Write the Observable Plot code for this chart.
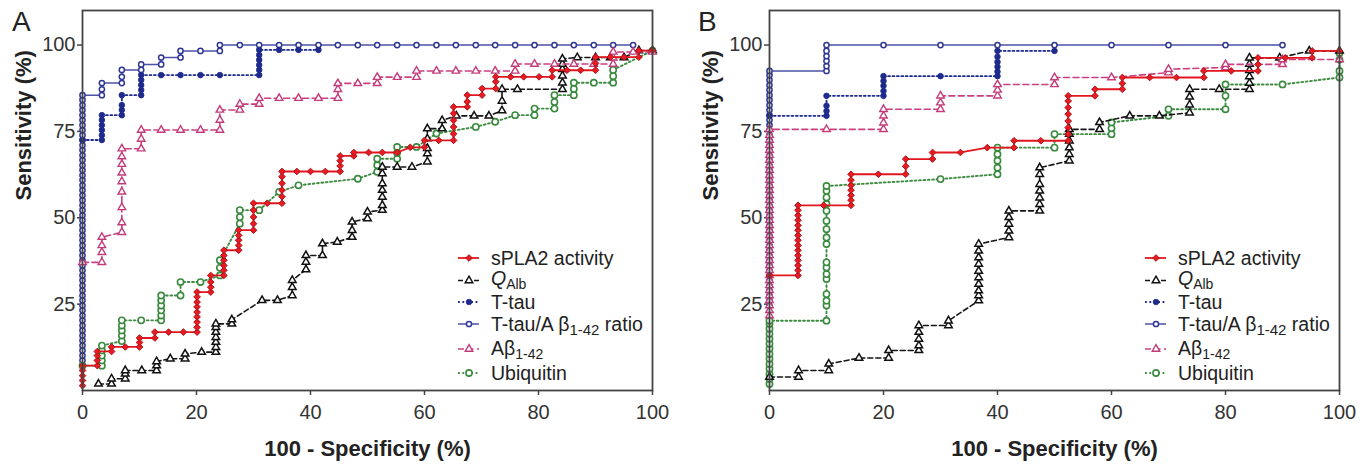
<!DOCTYPE html>
<html><head><meta charset="utf-8">
<script src="https://cdn.jsdelivr.net/npm/d3@7"></script>
<script src="https://cdn.jsdelivr.net/npm/@observablehq/plot@0.6"></script>
<style>
body{margin:0;background:#fff;font-family:"Liberation Sans",Arial,sans-serif;}
#wrap{position:relative;width:1372px;height:464px;display:flex;}
.panel{position:relative;width:686px;height:464px;}
.panel svg.leg{position:absolute;left:0;top:0;pointer-events:none;overflow:visible;}
.letter{position:absolute;top:6px;font-size:28px;color:#222;}
</style></head><body><div id="wrap"></div>
<script>
// ---------- DATA ----------
const panels = ["A", "B"];
const xTicks = [0, 20, 40, 60, 80, 100];
const yTicks = [25, 50, 75, 100];

// Panel A
const A_spla2 = [[0,1.4],[0,2.9],[0,4.3],[0,5.8],[0,7.2],[2.6,7.2],[2.6,8.7],[2.6,10.1],[2.6,11.3],[5.1,11.3],[5.1,12.6],[7.5,12.6],[10.0,12.6],[10.0,13.9],[10.0,15.2],[12.7,15.2],[12.7,16.9],[15.1,16.9],[17.7,16.9],[20.1,16.9],[20.1,18.3],[20.1,19.8],[20.1,21.3],[20.1,22.7],[20.1,24.2],[20.1,25.6],[20.1,27.1],[20.1,28.5],[22.5,28.5],[22.5,29.9],[22.5,31.4],[22.5,33.3],[24.8,33.3],[24.8,34.8],[24.8,36.2],[24.8,37.7],[24.8,39.1],[24.8,40.6],[27.4,40.6],[27.4,42.0],[27.4,43.5],[27.4,44.9],[27.4,46.4],[30.0,46.4],[30.0,48.3],[30.0,50.2],[30.0,52.2],[30.0,54.2],[32.4,54.2],[35.0,54.2],[35.0,56.1],[35.0,58.0],[35.0,60.0],[35.0,61.9],[35.0,63.4],[37.6,63.4],[40.0,63.4],[42.6,63.4],[45.2,63.4],[45.2,65.0],[45.2,66.5],[45.2,67.9],[47.6,67.9],[47.6,68.9],[50.2,68.9],[52.6,68.9],[55.2,68.9],[57.5,70.4],[60.0,70.4],[60.0,72.4],[62.5,72.4],[65.1,72.4],[65.1,74.3],[65.1,76.3],[65.1,78.2],[65.1,80.2],[65.1,82.1],[67.5,82.1],[67.5,83.6],[67.5,85.5],[70.1,85.5],[70.1,87.4],[72.5,87.4],[72.5,89.4],[72.5,90.8],[75.1,90.8],[77.4,90.8],[80.1,90.8],[82.4,90.8],[82.4,92.7],[85.0,92.7],[87.4,92.7],[90.0,92.7],[90.0,94.7],[90.0,96.5],[92.6,96.5],[95.0,96.5],[97.6,96.5],[97.6,98.4],[100,98.4]];
const A_qalb = [[2.8,1.9],[5.1,1.9],[5.1,3.4],[7.5,3.4],[7.5,4.8],[7.5,5.8],[10.4,5.8],[13.0,5.8],[13.0,7.2],[13.0,8.4],[15.4,9.2],[18.0,9.2],[18.0,10.6],[20.9,11.1],[23.4,11.1],[23.4,12.5],[23.4,14.0],[23.4,15.4],[23.4,16.9],[23.4,18.3],[23.4,19.3],[26.2,19.3],[26.2,20.5],[31.5,26.1],[34.2,26.1],[36.8,27.5],[36.8,29.9],[36.8,31.9],[39.2,35.0],[39.2,37.2],[39.2,39.1],[42.1,39.1],[42.1,42.5],[44.7,43.0],[47.3,44.4],[47.3,46.4],[47.3,48.8],[50.0,49.8],[50.0,51.7],[52.6,52.2],[52.6,53.6],[52.6,56.0],[52.6,58.0],[52.6,59.9],[52.6,62.8],[52.6,64.7],[55.2,64.7],[57.8,64.7],[60.5,66.2],[60.5,68.6],[60.5,70.1],[60.5,72.9],[60.5,75.8],[63.1,75.8],[63.1,78.2],[65.6,79.5],[68.7,79.5],[71.3,79.5],[73.6,81.0],[73.6,83.8],[73.6,87.2],[76.3,87.2],[84.2,87.2],[84.2,89.1],[84.2,91.1],[84.2,93.0],[84.2,94.5],[84.2,96.0],[86.8,96.4],[90.0,96.4],[92.6,96.4],[95.0,96.4],[97.6,98.4],[100,98.4]];
const A_ttau = [[0,72.5],[3.4,72.5],[3.4,73.9],[3.4,75.4],[3.4,76.8],[3.4,78.3],[3.4,79.7],[6.9,79.7],[6.9,81.2],[6.9,82.6],[6.9,85.5],[10.3,85.5],[10.3,87.0],[10.3,88.4],[10.3,89.9],[10.3,91.3],[13.8,91.3],[17.2,91.3],[20.7,91.3],[24.1,91.3],[31.0,91.3],[31.0,92.8],[31.0,94.2],[31.0,95.7],[31.0,97.1],[31.0,98.6],[34.5,98.6],[37.9,98.6],[41.4,98.6]];
const A_ratio = [[0,8.7],[0,10.1],[0,11.6],[0,13.0],[0,14.5],[0,15.9],[0,17.4],[0,18.8],[0,20.3],[0,21.7],[0,23.2],[0,24.6],[0,26.1],[0,27.5],[0,29.0],[0,30.4],[0,31.9],[0,33.3],[0,34.8],[0,36.2],[0,37.7],[0,39.1],[0,40.6],[0,42.0],[0,43.5],[0,44.9],[0,46.4],[0,47.8],[0,49.3],[0,50.7],[0,52.2],[0,53.6],[0,55.1],[0,56.5],[0,58.0],[0,59.4],[0,60.9],[0,62.3],[0,63.8],[0,65.2],[0,66.7],[0,68.1],[0,69.6],[0,71.0],[0,72.5],[0,73.9],[0,75.4],[0,76.8],[0,78.3],[0,79.7],[0,81.2],[0,82.6],[0,84.1],[0,85.5],[3.4,85.5],[3.4,87.2],[3.4,89.0],[6.9,89.0],[6.9,90.8],[6.9,92.8],[10.3,92.8],[10.3,94.4],[13.8,94.4],[13.8,96.4],[17.2,96.4],[17.2,98.3],[20.7,98.3],[24.1,98.3],[24.1,100],[27.6,100],[31.0,100],[34.5,100],[37.9,100],[41.4,100],[44.8,100],[48.3,100],[51.7,100],[55.2,100],[58.6,100],[62.1,100],[65.5,100],[69.0,100],[72.4,100],[75.9,100],[79.3,100],[82.8,100],[86.2,100],[89.7,100],[93.1,100],[96.6,100]];
const A_ab = [[0,37.1],[3.4,37.1],[3.4,40.0],[3.4,42.0],[3.4,44.4],[6.9,45.8],[6.9,48.6],[6.9,53.0],[6.9,57.5],[6.9,60.5],[6.9,63.0],[6.9,65.5],[6.9,67.7],[6.9,70.0],[10.3,70.0],[10.3,72.8],[10.3,75.4],[13.8,75.4],[17.2,75.4],[20.7,75.4],[24.1,75.4],[24.1,78.3],[24.1,81.2],[27.6,81.2],[27.6,82.9],[31.0,82.9],[31.0,84.6],[34.5,84.6],[37.9,84.6],[41.4,84.6],[44.8,84.6],[44.8,87.2],[44.8,88.9],[48.3,88.9],[51.7,88.9],[51.7,90.7],[55.2,90.7],[58.6,90.7],[58.6,92.5],[62.1,92.5],[65.5,92.5],[69.0,92.5],[72.4,92.5],[75.9,92.5],[75.9,94.5],[79.3,94.5],[82.8,94.5],[86.2,94.5],[89.7,94.5],[93.1,94.5],[93.1,96.3],[93.1,98.0],[96.6,98.0],[100,98.0]];
const A_ubi = [[0,7.2],[3.4,7.2],[3.4,8.7],[3.4,10.1],[3.4,11.6],[3.4,13.0],[6.9,14.3],[6.9,15.9],[6.9,17.4],[6.9,18.8],[6.9,20.3],[10.3,20.3],[13.8,20.3],[13.8,21.7],[13.8,23.2],[13.8,24.6],[13.8,26.1],[13.8,27.5],[17.2,27.5],[17.2,31.4],[20.7,31.4],[24.1,33.3],[24.1,35.5],[24.1,37.7],[27.6,48.3],[27.6,50.2],[27.6,52.2],[31.0,52.2],[34.5,57.5],[37.9,59.4],[48.3,61.3],[51.7,63.3],[51.7,65.2],[51.7,67.1],[55.2,67.1],[55.2,68.8],[55.2,70.5],[58.6,70.5],[62.1,74.4],[69.0,76.3],[72.4,77.8],[75.9,79.7],[79.3,79.7],[79.3,81.6],[82.8,81.6],[82.8,83.5],[82.8,85.5],[86.2,85.5],[86.2,87.3],[86.2,89.1],[89.7,89.1],[93.1,89.1],[93.1,91.0],[93.1,92.8],[100,98.4]];

// Panel B
const B_spla2 = [[0,33.3],[5.0,33.3],[5.0,34.8],[5.0,36.2],[5.0,37.7],[5.0,39.1],[5.0,40.6],[5.0,42.0],[5.0,43.5],[5.0,44.9],[5.0,46.4],[5.0,47.8],[5.0,49.3],[5.0,50.7],[5.0,52.2],[5.0,53.6],[9.5,53.6],[14.3,53.6],[14.3,55.1],[14.3,56.5],[14.3,58.0],[14.3,59.4],[14.3,60.9],[14.3,62.6],[19.1,62.6],[23.9,62.6],[23.9,64.9],[23.9,67.0],[28.6,67.0],[28.6,68.9],[33.5,68.9],[38.2,70.3],[42.9,70.3],[42.9,72.3],[47.6,72.3],[52.4,72.3],[52.4,74.2],[52.4,76.1],[52.4,78.0],[52.4,80.0],[52.4,81.9],[52.4,83.8],[52.4,85.3],[57.1,85.3],[57.1,87.2],[61.9,87.2],[61.9,88.9],[61.9,90.6],[66.7,90.6],[71.4,90.6],[76.2,90.6],[76.2,92.5],[81.0,92.5],[85.7,92.5],[85.7,94.4],[85.7,96.3],[90.5,96.3],[95.2,96.3],[95.2,98.3],[100,98.3]];
const B_qalb = [[0,3.9],[5.1,3.9],[5.1,5.8],[10.4,5.8],[10.4,7.7],[15.7,9.4],[20.9,9.4],[20.9,11.6],[26.2,11.6],[26.2,13.0],[26.2,14.9],[26.2,16.9],[26.2,18.8],[31.4,18.8],[31.4,20.2],[36.7,26.0],[36.7,27.5],[36.7,28.9],[36.7,30.8],[36.7,32.7],[36.7,34.6],[36.7,36.6],[36.7,38.5],[36.7,40.4],[36.7,42.4],[42.0,44.3],[42.0,46.2],[42.0,48.2],[42.0,50.1],[42.0,52.0],[47.4,52.0],[47.4,53.9],[47.4,55.8],[47.4,57.8],[47.4,59.7],[47.4,62.6],[47.4,64.5],[52.6,66.5],[52.6,68.4],[52.6,70.3],[52.6,72.3],[52.6,74.2],[52.6,75.6],[57.9,75.6],[57.9,77.6],[63.2,79.5],[68.4,79.5],[73.7,80.4],[73.7,82.7],[73.7,85.0],[73.7,87.2],[78.9,87.2],[84.2,87.2],[84.2,89.0],[84.2,90.9],[84.2,92.7],[84.2,94.5],[84.2,96.3],[89.5,96.3],[94.7,98.3],[100,98.3]];
const B_ttau = [[0,79.5],[10,79.5],[10,80.9],[10,82.4],[10,85.3],[20,85.3],[20,86.7],[20,88.2],[20,89.6],[20,91.0],[30,91.0],[40,91.0],[40,92.3],[40,93.7],[40,95.1],[40,96.6],[40,98.3],[50,98.3]];
const B_ratio = [[0,24.6],[0,26.1],[0,27.5],[0,29.0],[0,30.4],[0,31.9],[0,33.3],[0,34.8],[0,36.2],[0,37.7],[0,39.1],[0,40.6],[0,42.0],[0,43.5],[0,44.9],[0,46.4],[0,47.8],[0,49.3],[0,50.7],[0,52.2],[0,53.6],[0,55.1],[0,56.5],[0,58.0],[0,59.4],[0,60.9],[0,62.3],[0,63.8],[0,65.2],[0,66.7],[0,68.1],[0,69.6],[0,71.0],[0,72.5],[0,73.9],[0,75.4],[0,76.8],[0,78.3],[0,79.7],[0,81.2],[0,82.6],[0,84.1],[0,85.5],[0,87.0],[0,88.4],[0,89.9],[0,91.3],[0,92.5],[10,92.5],[10,93.9],[10,95.4],[10,96.8],[10,98.3],[10,100],[20,100],[30,100],[40,100],[50,100],[60,100],[70,100],[80,100],[90,100]];
const B_ab = [[0,21.7],[0,23.2],[0,24.6],[0,26.1],[0,27.5],[0,29.0],[0,30.4],[0,31.9],[0,33.3],[0,34.8],[0,36.2],[0,37.7],[0,39.1],[0,40.6],[0,42.0],[0,43.5],[0,44.9],[0,46.4],[0,47.8],[0,49.3],[0,50.7],[0,52.2],[0,53.6],[0,55.1],[0,56.5],[0,58.0],[0,59.4],[0,60.9],[0,62.3],[0,63.8],[0,65.2],[0,66.7],[0,68.1],[0,69.6],[0,71.0],[0,72.5],[0,73.9],[0,75.6],[10,75.6],[20,75.6],[20,77.5],[20,79.5],[20,81.4],[30,81.4],[30,83.3],[30,85.3],[40,85.3],[40,87.0],[40,88.6],[50,88.6],[50,90.6],[60,90.6],[70,92.0],[70,93.0],[80,93.5],[80,94.4],[90,94.4],[90,95.8],[100,95.8]];
const B_ubi = [[0,1.9],[0,3.4],[0,4.8],[0,6.3],[0,7.7],[0,9.2],[0,10.6],[0,12.1],[0,13.5],[0,15.0],[0,16.4],[0,17.9],[0,19.3],[0,20.2],[10,20.2],[10,24.6],[10,26.0],[10,27.9],[10,32.3],[10,33.7],[10,35.6],[10,37.1],[10,42.4],[10,44.3],[10,46.7],[10,49.1],[10,52.0],[10,54.0],[10,55.9],[10,57.8],[10,59.2],[30,61.2],[40,62.6],[40,64.5],[40,66.5],[40,68.4],[40,70.3],[50,70.3],[50,74.2],[60,74.2],[60,75.9],[60,77.6],[70,79.5],[70,81.4],[80,81.4],[80,85.3],[80,88.6],[90,88.6],[100,90.6],[100,92.5],[100,95.8],[100,97.7]];

const seriesLabels = ["sPLA2 activity", "QAlb", "T-tau", "T-tau/A β1-42 ratio", "Aβ1-42", "Ubiquitin"];
const seriesKeys = ["spla2", "qalb", "ttau", "ratio", "ab", "ubi"];
const dataByPanel = {
  A: {spla2: A_spla2, qalb: A_qalb, ttau: A_ttau, ratio: A_ratio, ab: A_ab, ubi: A_ubi},
  B: {spla2: B_spla2, qalb: B_qalb, ttau: B_ttau, ratio: B_ratio, ab: B_ab, ubi: B_ubi}
};

// ---------- STYLES ----------
const sty = {
  spla2: {line:"#e2161e", dash:null, sym:"diamond2", r:3.0, fill:"#ea1a22", stroke:"#a8161b", sw:1.0, lw:1.8},
  qalb:  {line:"#151515", dash:"5,3", sym:"triangle", r:2.8, fill:"#fff", stroke:"#111", sw:1.5, lw:1.6},
  ttau:  {line:"#1e2b8c", dash:"1.8,2.6", sym:"circle", r:2.8, fill:"#1e2b8c", stroke:"#1e2b8c", sw:0.8, lw:1.9},
  ratio: {line:"#4b51a8", dash:null, sym:"circle", r:2.6, fill:"#fff", stroke:"#2f3692", sw:1.5, lw:1.5},
  ab:    {line:"#cc3f80", dash:"6,3.5", sym:"triangle", r:2.8, fill:"#fff", stroke:"#c23c7c", sw:1.4, lw:1.6},
  ubi:   {line:"#3d8c41", dash:"1.8,2.6", sym:"circle", r:3.1, fill:"#fff", stroke:"#3a8a3e", sw:1.6, lw:1.9}
};
const drawOrder = ["ratio", "ttau", "ubi", "qalb", "ab", "spla2"];
const FONT = "'Liberation Sans', Arial, sans-serif";

const wrap = document.getElementById("wrap");

panels.forEach((p, i) => {
  const ml = i === 0 ? 82 : 83, mr = i === 0 ? 34 : 33;
  const marks = [];
  for (const k of drawOrder) {
    const s = sty[k], d = dataByPanel[p][k];
    marks.push(Plot.line(d, {x: v => v[0], y: v => v[1], stroke: s.line, strokeWidth: s.lw, strokeDasharray: s.dash ?? undefined}));
    marks.push(Plot.dot(d, {x: v => v[0], y: v => v[1], symbol: s.sym, r: s.r, fill: s.fill, stroke: s.stroke, strokeWidth: s.sw}));
  }
  const chart = Plot.plot({
    width: 686, height: 464,
    marginLeft: ml, marginRight: mr, marginTop: 10, marginBottom: 74,
    style: {fontFamily: FONT, color: "#333", background: "#fff", overflow: "visible"},
    x: {domain: [0, 100]},
    y: {domain: [0, 110]},
    marks: [
      Plot.axisX({ticks: xTicks, tickSize: 5, tickPadding: 9, fontSize: 20, label: null, stroke: "#444", strokeWidth: 1.5}),
      Plot.axisY({ticks: yTicks, tickSize: 5, tickPadding: 2, fontSize: 20, label: null, stroke: "#444", strokeWidth: 1.5}),
      ...marks,
      Plot.frame({stroke: "#444", strokeWidth: 1.8}),
      Plot.text(["100 - Specificity (%)"], {frameAnchor: "bottom", dy: 65, lineAnchor: "bottom", fontSize: 22, fontWeight: "bold", fill: "#222"}),
      Plot.text(["Sensitivity (%)"], {frameAnchor: "left", dx: -52, rotate: -90, lineAnchor: "bottom", fontSize: 22, fontWeight: "bold", fill: "#222"})
    ]
  });
  const div = document.createElement("div");
  div.className = "panel";
  div.appendChild(chart);
  const letter = document.createElement("div");
  letter.className = "letter";
  letter.style.left = "12px";
  letter.textContent = p;
  div.appendChild(letter);

  // legend overlay
  const svg = d3.select(div).append("svg").attr("class", "leg").attr("width", 686).attr("height", 464)
    .style("font-family", FONT);
  const lx = ml + 376, rowsMarker = [258, 280.5, 302, 324, 349, 373], rowsBase = [265, 285, 309, 331, 355, 380];
  const symMap = {circle: d3.symbolCircle, triangle: d3.symbolTriangle, diamond2: d3.symbolDiamond2};
  seriesKeys.forEach((k, j) => {
    const s = sty[k];
    const g = svg.append("g");
    g.append("line").attr("x1", lx).attr("x2", lx + 21).attr("y1", rowsMarker[j]).attr("y2", rowsMarker[j])
      .attr("stroke", s.line).attr("stroke-width", s.lw).attr("stroke-dasharray", s.dash);
    g.append("path").attr("d", d3.symbol(symMap[s.sym], Math.PI * s.r * s.r)())
      .attr("transform", `translate(${lx + 11},${rowsMarker[j]})`)
      .attr("fill", s.fill).attr("stroke", s.stroke).attr("stroke-width", s.sw);
    const t = g.append("text").attr("x", lx + 33).attr("y", rowsBase[j]).attr("font-size", 19.5).attr("fill", "#222");
    const lab = seriesLabels[j];
    if (k === "qalb") {
      t.append("tspan").text("Q").attr("font-style", "italic");
      t.append("tspan").text("Alb").attr("font-size", 14).attr("dy", 4);
    } else if (k === "ratio") {
      t.append("tspan").text("T-tau/A β");
      t.append("tspan").text("1-42").attr("font-size", 15).attr("dy", 4);
      t.append("tspan").text(" ratio").attr("dy", -4);
    } else if (k === "ab") {
      t.append("tspan").text("Aβ");
      t.append("tspan").text("1-42").attr("font-size", 14).attr("dy", 3.5);
    } else {
      t.text(lab);
    }
  });
  wrap.appendChild(div);
});
</script></body></html>
